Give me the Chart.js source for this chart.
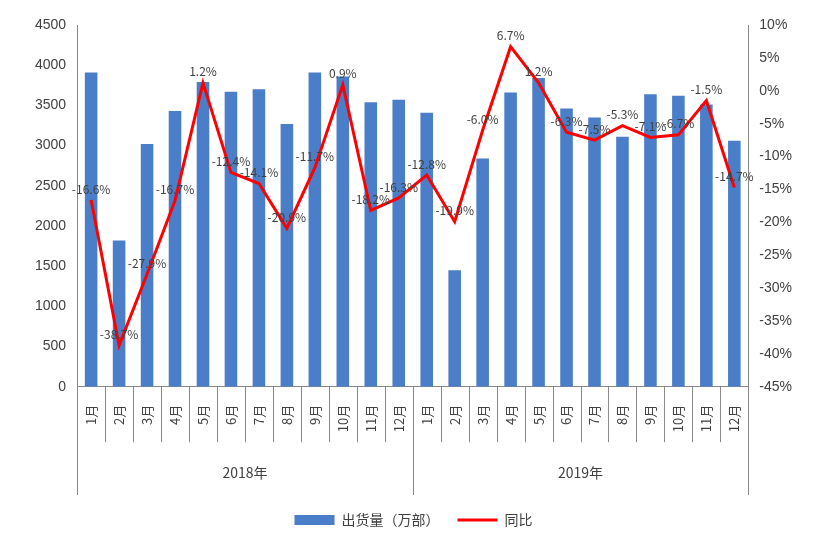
<!DOCTYPE html>
<html>
<head>
<meta charset="utf-8">
<script src="https://cdn.jsdelivr.net/npm/chart.js@4/dist/chart.umd.min.js"></script>
<style>
  body { margin: 0; background: #fff; }
  #wrap { width: 835px; height: 547px; }
</style>
</head>
<body>
<div id="wrap"><canvas id="myChart"></canvas></div>
<script>
const months = ["1月","2月","3月","4月","5月","6月","7月","8月","9月","10月","11月","12月",
                "1月","2月","3月","4月","5月","6月","7月","8月","9月","10月","11月","12月"];
const years = ["2018年", "2019年"];
const shipments = [3910, 1820, 3020, 3430, 3790, 3670, 3700, 3270, 3910, 3860, 3540, 3570,
                   3410, 1450, 2840, 3660, 3840, 3460, 3350, 3110, 3640, 3620, 3510, 3060];
const yoy = [-16.6, -38.7, -27.9, -16.7, 1.2, -12.4, -14.1, -20.9, -11.7, 0.9, -18.2, -16.3,
             -12.8, -19.9, -6.0, 6.7, 1.2, -6.3, -7.5, -5.3, -7.1, -6.7, -1.5, -14.7];

const fontCJK = "'Noto Sans CJK SC', sans-serif";

const pointLabels = {
    id: "pointLabels",
    afterDatasetsDraw(chart) {
        let ctx = chart.ctx;
        let meta = chart.getDatasetMeta(1);
        ctx.save();
        ctx.font = "12px " + fontCJK;
        ctx.fillStyle = "#404040";
        ctx.textAlign = "center";
        ctx.textBaseline = "bottom";
        meta.data.forEach((pt, i) => {
            ctx.fillText(yoy[i].toFixed(1) + "%", pt.x, pt.y - 5);
        });
        ctx.restore();
    }
};

// category separator lines under the x axis (months and years)
const separators = {
    id: "separators",
    afterDraw(chart) {
        let ctx = chart.ctx;
        let x = chart.scales.x;
        let x2 = chart.scales.x2;
        let top = chart.chartArea.bottom;
        let w = x.getPixelForValue(1) - x.getPixelForValue(0);
        ctx.save();
        ctx.strokeStyle = "#888";
        ctx.lineWidth = 1;
        ctx.beginPath();
        for (let i = 0; i <= months.length; i++) {
            let px = Math.round(x.getPixelForValue(0) - w / 2 + i * w) + 0.5;
            let bottom = (i % 12 === 0) ? x2.bottom : x.bottom;
            ctx.moveTo(px, top);
            ctx.lineTo(px, bottom);
        }
        ctx.stroke();
        ctx.restore();
    }
};

new Chart("myChart", {
    type: "bar",
    data: {
        labels: months,
        datasets: [{
            label: "出货量（万部）",
            data: shipments,
            backgroundColor: "#4a7ec8",
            barPercentage: 0.45,
            categoryPercentage: 1,
            pointStyle: "rect",
            yAxisID: "y",
            order: 2
        }, {
            type: "line",
            label: "同比",
            data: yoy,
            borderColor: "#ff0000",
            backgroundColor: "#ff0000",
            borderWidth: 3,
            pointRadius: 0,
            pointStyle: "line",
            tension: 0,
            yAxisID: "y1",
            order: 1
        }]
    },
    options: {
        responsive: true,
        maintainAspectRatio: false,
        animation: false,
        layout: { padding: { left: 32, right: 40, top: 25, bottom: 10 } },
        plugins: {
            legend: {
                position: "bottom",
                labels: {
                    font: { size: 14, family: fontCJK },
                    color: "#404040",
                    usePointStyle: true,
                    pointStyleWidth: 40,
                    boxHeight: 10,
                    padding: 18,
                    sort: (a, b) => a.datasetIndex - b.datasetIndex
                }
            },
            tooltip: { enabled: false }
        },
        scales: {
            x: {
                grid: { display: false },
                border: { color: "#888" },
                ticks: {
                    minRotation: 90, maxRotation: 90,
                    padding: 10,
                    color: "#404040",
                    font: { size: 13, family: fontCJK }
                }
            },
            x2: {
                type: "category",
                labels: years,
                position: "bottom",
                offset: true,
                grid: { display: false },
                border: { display: false },
                ticks: {
                    padding: 14,
                    color: "#404040",
                    font: { size: 14, family: fontCJK }
                }
            },
            y: {
                position: "left",
                min: 0, max: 4500,
                ticks: { stepSize: 500, color: "#404040", font: { size: 14 },
                         callback: v => v },
                grid: { display: false },
                border: { color: "#888" }
            },
            y1: {
                position: "right",
                min: -45, max: 10,
                ticks: { stepSize: 5, color: "#404040", font: { size: 14 },
                         callback: v => v + "%" },
                grid: { display: false },
                border: { color: "#888" }
            }
        }
    },
    plugins: [pointLabels, separators]
});
</script>
</body>
</html>
